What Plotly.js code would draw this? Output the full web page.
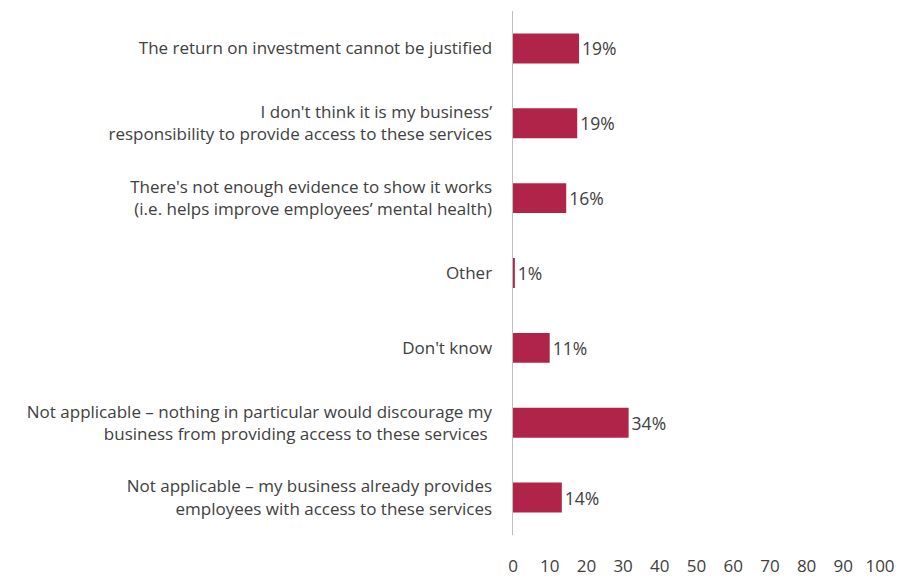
<!DOCTYPE html>
<html>
<head>
<meta charset="utf-8">
<script src="https://cdn.plot.ly/plotly-3.0.1.min.js"></script>
<style>html,body{margin:0;padding:0;background:#fff;}#chart{width:905px;height:578px;}</style>
</head>
<body>
<div id="chart"></div>
<script>
const categories = [
  "The return on investment cannot be justified",
  "I don't think it is my business’<br>responsibility to provide access to these services",
  "There's not enough evidence to show it works<br>(i.e. helps improve employees’ mental health)",
  "Other",
  "Don't know",
  "Not applicable – nothing in particular would discourage my<br>business from providing access to these services ",
  "Not applicable – my business already provides<br>employees with access to these services"
];
const barValues = [18, 17.5, 14.5, 0.5, 10, 31.5, 13.3];
const valueLabels = ["19%", "19%", "16%", "1%", "11%", "34%", "14%"];
const xTicks = [0, 10, 20, 30, 40, 50, 60, 70, 80, 90, 100];

const font = "'Open Sans', 'Noto Sans', sans-serif";
const trace = {
  type: "bar",
  orientation: "h",
  y: categories,
  x: barValues,
  text: valueLabels,
  textposition: "outside",
  cliponaxis: false,
  textfont: {family: font, size: 17.5, color: "#404040"},
  marker: {color: "#B0244A"},
  width: 0.4,
  hoverinfo: "skip"
};
const layout = {
  width: 905, height: 578,
  margin: {l: 513, r: 25, t: 10.5, b: 42.5},
  paper_bgcolor: "#fff", plot_bgcolor: "#fff",
  showlegend: false,
  font: {family: font, color: "#404040"},
  xaxis: {
    range: [0, 100], tickvals: xTicks, showgrid: false, zeroline: false,
    showline: false, ticks: "", ticklabelstandoff: 19,
    tickfont: {family: font, size: 17, color: "#404040"}
  },
  yaxis: {
    autorange: "reversed", showgrid: false, zeroline: false,
    showline: true, linecolor: "#BFBFBF", linewidth: 1.5, ticks: "",
    ticklabelstandoff: 16,
    tickfont: {family: font, size: 17, color: "#404040"}
  }
};
Plotly.newPlot("chart", [trace], layout, {staticPlot: true, displayModeBar: false});
</script>
</body>
</html>
